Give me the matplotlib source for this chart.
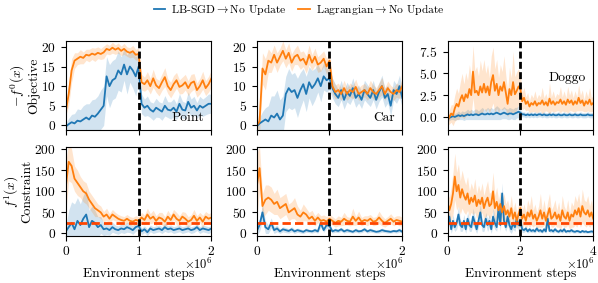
import numpy as np
import matplotlib
matplotlib.use("Agg")
import matplotlib.pyplot as plt
from matplotlib.lines import Line2D

plt.rcParams['font.family'] = 'cmr10'
plt.rcParams['mathtext.fontset'] = 'cm'
plt.rcParams['axes.unicode_minus'] = False
plt.rcParams['axes.formatter.use_mathtext'] = True
plt.rcParams['font.size'] = 9.7
plt.rcParams['xtick.major.pad'] = 2.8

BLUE = '#1f77b4'
ORANGE = '#ff7f0e'

# ---- data (51 samples over 2e6 steps for Point / Car, 81 over 4e6 for Doggo)
point_obj_lag = [3.5, 8.0, 14.0, 16.5, 17.0, 17.5, 17.2, 18.0, 17.8, 18.3,
                 18.0, 18.5, 18.2, 18.6, 19.5, 19.2, 19.8, 19.3, 19.7, 19.0,
                 19.5, 18.8, 18.5, 18.9, 18.0, 18.2,
                 11.0, 10.5, 11.5, 10.0, 12.0, 10.2, 9.5, 11.0, 12.3, 10.0,
                 9.0, 10.5, 11.5, 9.8, 10.2, 11.0, 9.5, 10.8, 11.2, 9.0,
                 10.0, 11.5, 9.5, 10.5, 12.0]
point_obj_lag_sd = [1.0, 3.0, 3.0, 2.0, 1.5, 1.8, 1.5, 1.4, 1.6, 1.5,
                    1.7, 1.5, 1.4, 1.6, 1.3, 1.2, 1.4, 1.2, 1.3, 1.2,
                    1.4, 1.2, 1.3, 1.5, 1.4, 1.5,
                    2.0, 1.8, 2.2, 2.0, 2.3, 1.8, 2.0, 2.1, 2.4, 1.9,
                    2.0, 2.2, 2.0, 1.8, 2.1, 2.0, 1.9, 2.2, 2.0, 1.8,
                    2.0, 2.3, 1.9, 2.0, 2.2]
point_obj_lb = [-0.3, 0.3, 0.8, 0.5, 1.2, 1.0, 1.5, 2.0, 1.5, 2.5,
                2.2, 3.0, 4.0, 5.0, 12.5, 10.0, 11.5, 12.0, 14.0, 13.0,
                15.5, 13.0, 15.0, 14.0, 12.5, 15.0,
                5.5, 4.5, 5.0, 4.0, 3.5, 4.5, 4.0, 3.5, 5.0, 4.0,
                3.8, 4.5, 3.5, 5.5, 4.0, 3.8, 6.0, 4.5, 5.0, 3.8,
                5.0, 4.5, 5.0, 5.5, 5.5]
point_obj_lb_sd = [0.8, 1.5, 2.0, 2.5, 3.0, 3.0, 3.5, 3.5, 4.0, 4.0,
                   4.5, 4.5, 5.0, 5.0, 5.0, 5.5, 5.0, 5.0, 5.0, 4.5,
                   4.0, 5.0, 4.0, 4.5, 5.0, 4.0,
                   2.5, 2.2, 2.5, 2.0, 2.2, 2.4, 2.0, 2.2, 2.6, 2.0,
                   2.2, 2.3, 2.0, 2.6, 2.2, 2.0, 2.5, 2.2, 2.4, 2.0,
                   2.4, 2.2, 2.3, 2.5, 2.4]

car_obj_lag = [0.0, 1.0, 14.5, 13.0, 16.5, 16.0, 18.0, 16.0, 17.5, 19.0,
               17.0, 18.5, 16.0, 17.5, 18.0, 16.5, 17.0, 15.5, 18.0, 16.0,
               17.5, 15.5, 16.0, 17.0, 15.0, 16.5,
               10.0, 8.5, 9.0, 8.0, 9.5, 8.0, 9.0, 8.5, 9.8, 8.0,
               8.5, 9.0, 8.0, 9.5, 8.5, 8.0, 9.0, 10.0, 8.0, 9.5,
               8.5, 8.0, 9.0, 8.5, 10.0]
car_obj_lag_sd = [0.5, 3.0, 4.0, 4.0, 3.0, 2.5, 2.5, 2.5, 2.2, 2.5,
                  2.3, 2.5, 2.2, 2.0, 2.5, 2.2, 2.0, 2.2, 2.5, 2.0,
                  2.2, 2.0, 2.2, 2.0, 2.0, 2.2,
                  2.0, 1.8, 1.8, 1.6, 2.0, 1.6, 1.8, 1.7, 2.0, 1.6,
                  1.8, 1.7, 1.6, 2.0, 1.8, 1.6, 1.8, 2.2, 1.6, 1.8,
                  1.7, 1.6, 1.8, 1.7, 2.0]
car_obj_lb = [-0.3, 0.5, 1.0, 1.5, 1.0, 2.5, 2.0, 3.0, 1.5, 2.5,
              8.0, 9.5, 8.5, 9.0, 7.0, 9.0, 10.5, 8.0, 11.0, 9.5,
              10.5, 12.0, 10.0, 12.5, 11.5, 12.0,
              9.5, 8.0, 7.0, 9.0, 6.5, 8.5, 7.5, 9.5, 7.0, 8.0,
              6.5, 9.0, 8.0, 7.0, 9.0, 6.5, 8.5, 10.0, 7.0, 8.0,
              5.0, 9.0, 8.0, 10.0, 7.0]
car_obj_lb_sd = [0.8, 1.5, 2.5, 3.0, 4.0, 5.0, 5.5, 6.0, 5.0, 5.0,
                 4.5, 5.0, 4.5, 4.5, 5.0, 4.5, 4.0, 4.5, 4.0, 4.5,
                 4.0, 3.5, 4.0, 3.5, 3.0, 3.0,
                 2.5, 2.5, 2.2, 2.5, 2.4, 2.5, 2.2, 2.6, 2.4, 2.3,
                 2.2, 2.5, 2.4, 2.2, 2.5, 2.3, 2.4, 2.8, 2.4, 2.3,
                 2.6, 2.5, 2.4, 2.8, 2.5]

doggo_obj_lag = [-0.5, 0.0, 0.4, 0.2, 1.0, 1.5, 1.2, 2.0, 2.5, 1.8,
                 2.6, 2.2, 3.2, 2.5, 5.2, 2.8, 3.0, 2.5, 3.5, 2.8,
                 3.8, 2.8, 3.5, 2.5, 4.0, 4.8, 3.0, 3.8, 2.5, 3.5,
                 3.0, 4.0, 2.8, 1.5, 3.2, 2.5, 4.0, 2.6, 3.0, 3.5,
                 3.2, 1.8, 2.2, 1.5, 1.8, 1.2, 1.6, 1.4, 1.8, 1.3,
                 1.6, 1.5, 1.9, 1.4, 1.7, 1.3, 2.1, 1.5, 1.8, 1.4,
                 1.7, 1.6, 2.0, 1.5, 1.8, 1.4, 2.0, 1.6, 1.9, 1.4,
                 1.8, 1.5, 2.2, 1.6, 1.9, 1.3, 1.8, 1.5, 2.0, 1.4,
                 1.6]
doggo_obj_lag_sd = [0.5, 0.8, 1.0, 1.2, 1.5, 1.8, 1.5, 2.0, 2.5, 2.0,
                    2.5, 2.0, 2.8, 2.2, 3.0, 2.5, 2.8, 2.2, 3.0, 2.5,
                    2.8, 2.2, 2.5, 2.0, 3.0, 3.2, 2.5, 2.8, 2.0, 2.5,
                    2.2, 3.0, 2.0, 1.5, 2.5, 2.0, 3.5, 2.0, 2.2, 2.0,
                    1.8, 1.0, 1.2, 0.8, 1.0, 0.7, 1.0, 0.8, 1.2, 0.8,
                    1.0, 0.8, 1.5, 0.8, 1.0, 0.7, 1.8, 0.8, 1.2, 0.8,
                    1.0, 0.9, 1.5, 0.8, 1.2, 0.8, 1.5, 0.9, 1.2, 0.8,
                    1.2, 0.8, 1.5, 0.9, 1.2, 0.7, 1.2, 0.8, 1.4, 0.8,
                    0.9]
doggo_obj_lb = [-0.3, -0.1, 0.0, 0.1, 0.0, 0.1, 0.2, 0.1, 0.2, 0.1,
                0.2, 0.3, 0.2, 0.3, 0.2, 0.3, 0.3, 0.2, 0.3, 0.4,
                0.3, 0.3, 0.4, 0.3, 0.4, 0.3, 0.4, 0.5, 0.4, 0.3,
                0.4, 0.5, 0.4, 0.3, 0.4, 0.4, 0.3, 0.4, 0.5, 0.6,
                0.5, 0.3, 0.3, 0.2, 0.3, 0.2, 0.3, 0.2, 0.3, 0.2,
                0.3, 0.3, 0.2, 0.3, 0.2, 0.2, 0.3, 0.2, 0.3, 0.2,
                0.2, 0.3, 0.2, 0.2, 0.3, 0.2, 0.2, 0.3, 0.2, 0.2,
                0.3, 0.2, 0.2, 0.3, 0.2, 0.2, 0.2, 0.3, 0.2, 0.2,
                0.2]
doggo_obj_lb_sd = [0.3, 0.3, 0.3, 0.4, 0.4, 0.4, 0.5, 0.4, 0.5, 0.5,
                   0.5, 0.6, 0.5, 0.6, 0.5, 0.6, 0.6, 0.5, 0.6, 0.7,
                   0.6, 0.6, 0.7, 0.6, 0.7, 0.6, 0.7, 0.8, 0.7, 0.6,
                   0.6, 0.7, 0.6, 0.6, 0.7, 0.6, 0.6, 0.7, 0.6, 0.7,
                   0.4, 0.3, 0.3, 0.3, 0.3, 0.3, 0.3, 0.3, 0.3, 0.3,
                   0.3, 0.3, 0.3, 0.3, 0.3, 0.3, 0.3, 0.3, 0.3, 0.3,
                   0.3, 0.3, 0.3, 0.3, 0.3, 0.3, 0.3, 0.3, 0.3, 0.3,
                   0.3, 0.3, 0.3, 0.3, 0.3, 0.3, 0.3, 0.3, 0.3, 0.3,
                   0.3]

point_con_lag = [110, 170, 160, 130, 120, 110, 100, 95, 80, 70,
                 60, 55, 50, 40, 45, 35, 45, 40, 35, 32,
                 30, 35, 30, 28, 32, 30,
                 38, 32, 45, 35, 40, 30, 38, 35, 28, 40,
                 32, 45, 35, 30, 40, 35, 28, 32, 42, 30,
                 38, 28, 40, 35, 38]
point_con_lag_sd = [60, 45, 40, 30, 30, 25, 25, 25, 20, 20,
                    20, 15, 15, 12, 15, 12, 12, 10, 10, 10,
                    10, 10, 10, 10, 10, 10,
                    12, 12, 15, 12, 15, 12, 12, 15, 12, 15,
                    12, 12, 15, 12, 12, 15, 12, 12, 15, 12,
                    12, 15, 12, 12, 12]
point_con_lb = [5, 15, 25, 10, 30, 20, 35, 45, 15, 30,
                25, 15, 20, 10, 12, 8, 15, 10, 8, 12,
                10, 15, 12, 8, 15, 18,
                5, 10, 3, 12, 8, 10, 12, 8, 15, 10,
                12, 8, 10, 12, 8, 10, 12, 8, 10, 15,
                8, 12, 10, 8, 12]
point_con_lb_sd = [10, 40, 50, 60, 55, 50, 55, 60, 40, 35,
                   30, 25, 20, 15, 15, 12, 12, 10, 10, 10,
                   10, 12, 10, 10, 10, 10,
                   8, 8, 8, 8, 8, 8, 8, 8, 10, 8,
                   8, 8, 8, 8, 8, 8, 8, 8, 8, 8,
                   8, 8, 8, 8, 8]

car_con_lag = [110, 155, 65, 80, 85, 80, 70, 75, 60, 65,
               70, 50, 55, 60, 45, 40, 50, 45, 35, 40,
               30, 38, 30, 32, 28, 35,
               30, 25, 30, 28, 35, 30, 28, 40, 30, 38,
               28, 32, 30, 35, 28, 30, 38, 30, 25, 30,
               35, 28, 32, 30, 28]
car_con_lag_sd = [80, 50, 30, 35, 30, 30, 25, 30, 25, 25,
                  25, 20, 20, 25, 20, 15, 20, 15, 15, 15,
                  12, 12, 12, 12, 12, 12,
                  10, 10, 12, 10, 15, 10, 10, 20, 10, 15,
                  10, 10, 12, 10, 10, 10, 15, 12, 10, 10,
                  12, 10, 10, 12, 10]
car_con_lb = [5, 20, 50, 15, 10, 25, 8, 12, 5, 10,
              8, 6, 10, 5, 8, 6, 4, 8, 6, 5,
              8, 5, 25, 8, 20, 18,
              5, 8, 6, 10, 5, 8, 6, 4, 8, 5,
              6, 10, 5, 8, 6, 4, 5, 8, 6, 5,
              4, 6, 5, 8, 4]
car_con_lb_sd = [10, 15, 20, 15, 10, 12, 8, 8, 5, 6,
                 6, 5, 6, 5, 5, 5, 4, 5, 4, 4,
                 5, 4, 10, 5, 8, 8,
                 4, 5, 4, 5, 4, 5, 4, 3, 5, 4,
                 4, 5, 4, 5, 4, 3, 4, 5, 4, 4,
                 3, 4, 4, 5, 3]

doggo_con_lag = [75, 55, 70, 95, 135, 100, 115, 85, 105, 90,
                 80, 95, 70, 85, 75, 90, 65, 80, 70, 85,
                 60, 75, 85, 65, 70, 100, 60, 75, 55, 70,
                 50, 65, 45, 55, 40, 60, 35, 50, 30, 45,
                 60, 35, 45, 30, 50, 40, 55, 35, 45, 30,
                 40, 55, 35, 50, 30, 45, 60, 35, 40, 50,
                 35, 45, 30, 55, 40, 35, 50, 30, 45, 40,
                 55, 45, 60, 40, 65, 50, 45, 55, 40, 50,
                 35]
doggo_con_lag_sd = [20, 30, 40, 50, 55, 45, 50, 40, 45, 40,
                    35, 40, 30, 35, 30, 40, 30, 35, 30, 35,
                    30, 35, 40, 30, 30, 45, 30, 35, 25, 30,
                    25, 30, 25, 25, 20, 30, 20, 25, 20, 25,
                    30, 20, 25, 20, 30, 25, 35, 20, 25, 20,
                    25, 40, 20, 30, 20, 30, 35, 20, 25, 30,
                    20, 30, 20, 35, 25, 20, 30, 20, 30, 25,
                    35, 30, 35, 25, 40, 30, 30, 35, 25, 30,
                    20]
doggo_con_lb = [20, 40, 10, 30, 15, 25, 45, 20, 15, 30,
                10, 35, 20, 15, 40, 25, 10, 30, 50, 20,
                15, 35, 20, 30, 10, 40, 25, 15, 60, 20,
                95, 30, 15, 40, 20, 10, 25, 15, 35, 20,
                30, 10, 8, 12, 5, 10, 6, 8, 5, 12,
                6, 8, 4, 10, 5, 35, 6, 8, 5, 10,
                6, 4, 8, 5, 10, 4, 6, 5, 8, 5,
                4, 6, 5, 3, 6, 4, 5, 3, 4, 5,
                4]
doggo_con_lb_sd = [10, 15, 10, 15, 10, 15, 20, 15, 10, 15,
                   10, 15, 15, 10, 20, 15, 10, 15, 20, 15,
                   10, 15, 15, 15, 10, 20, 15, 10, 20, 15,
                   25, 15, 10, 20, 15, 10, 15, 10, 15, 15,
                   15, 8, 5, 6, 4, 6, 4, 5, 4, 6,
                   4, 5, 3, 6, 4, 12, 4, 5, 4, 6,
                   4, 3, 5, 4, 6, 3, 4, 4, 5, 4,
                   3, 4, 4, 2, 4, 3, 4, 2, 3, 4,
                   3]

envs = ['Point', 'Car', 'Doggo']
max_steps = [2e6, 2e6, 4e6]
switch_step = [1e6, 1e6, 2e6]
threshold = 25

objective = {
    'Point': (point_obj_lb, point_obj_lb_sd, point_obj_lag, point_obj_lag_sd),
    'Car': (car_obj_lb, car_obj_lb_sd, car_obj_lag, car_obj_lag_sd),
    'Doggo': (doggo_obj_lb, doggo_obj_lb_sd, doggo_obj_lag, doggo_obj_lag_sd),
}
constraint = {
    'Point': (point_con_lb, point_con_lb_sd, point_con_lag, point_con_lag_sd),
    'Car': (car_con_lb, car_con_lb_sd, car_con_lag, car_con_lag_sd),
    'Doggo': (doggo_con_lb, doggo_con_lb_sd, doggo_con_lag, doggo_con_lag_sd),
}


def draw(ax, steps, series):
    lb, lb_sd, lag, lag_sd = [np.array(s, dtype=float) for s in series]
    for mean, sd, color in ((lb, lb_sd, BLUE), (lag, lag_sd, ORANGE)):
        ax.fill_between(steps, mean - sd, mean + sd, color=color, alpha=0.2, lw=0)
        ax.plot(steps, mean, color=color, lw=1.3)


fig, axes = plt.subplots(2, 3, figsize=(5.98, 2.83), dpi=100, sharex='col')
fig.subplots_adjust(left=0.11, right=0.992, top=0.855, bottom=0.166,
                    wspace=0.31, hspace=0.19)

for j, env in enumerate(envs):
    n = len(objective[env][0])
    steps = np.linspace(0, max_steps[j], n)

    ax = axes[0, j]
    draw(ax, steps, objective[env])
    ax.axvline(switch_step[j], color='black', ls='--', lw=2, dashes=(2.5, 1.2))
    ax.set_xlim(0, max_steps[j])
    if env == 'Doggo':
        ax.set_ylim(-1.5, 8.7)
        ax.set_yticks([0, 2.5, 5.0, 7.5])
        ax.text(0.95, 0.52, env, transform=ax.transAxes, ha='right', va='bottom')
    else:
        ax.set_ylim(-1.2, 21.5)
        ax.set_yticks([0, 5, 10, 15, 20])
        ax.text(0.95, 0.07, env, transform=ax.transAxes, ha='right', va='bottom')
    ax.xaxis.offsetText.set_visible(False)

    ax = axes[1, j]
    draw(ax, steps, constraint[env])
    ax.axhline(threshold, color='#ff4500', ls='--', lw=2, dashes=(3, 1.5))
    ax.axvline(switch_step[j], color='black', ls='--', lw=2, dashes=(2.5, 1.2))
    ax.set_ylim(-6, 205)
    ax.set_yticks([0, 50, 100, 150, 200])
    ax.set_xlim(0, max_steps[j])
    ax.set_xlabel('Environment steps')
    ax.xaxis.set_label_coords(0.5, -0.36)
    # the x10^6 multiplier sits under the tick labels, above the axis label
    ax.xaxis.offsetText.set_visible(False)
    ax.text(1.01, -0.235, r'$\times10^{6}$', transform=ax.transAxes,
            ha='right', va='top', fontsize=9)

axes[0, 0].set_ylabel('$-f^0(x)$\nObjective', labelpad=1, linespacing=1.0)
axes[1, 0].set_ylabel('$f^1(x)$\nConstraint', labelpad=1, linespacing=1.0)

handles = [Line2D([], [], color=BLUE, lw=1.3), Line2D([], [], color=ORANGE, lw=1.3)]
labels = [r'LB-SGD$\rightarrow$No Update', r'Lagrangian$\rightarrow$No Update']
fig.legend(handles, labels, loc='upper center', bbox_to_anchor=(0.5, 1.03), ncol=2,
           frameon=False, handlelength=1.0, columnspacing=1.0, handletextpad=0.5,
           fontsize=8.3)

fig.savefig('out.png', dpi=100)
